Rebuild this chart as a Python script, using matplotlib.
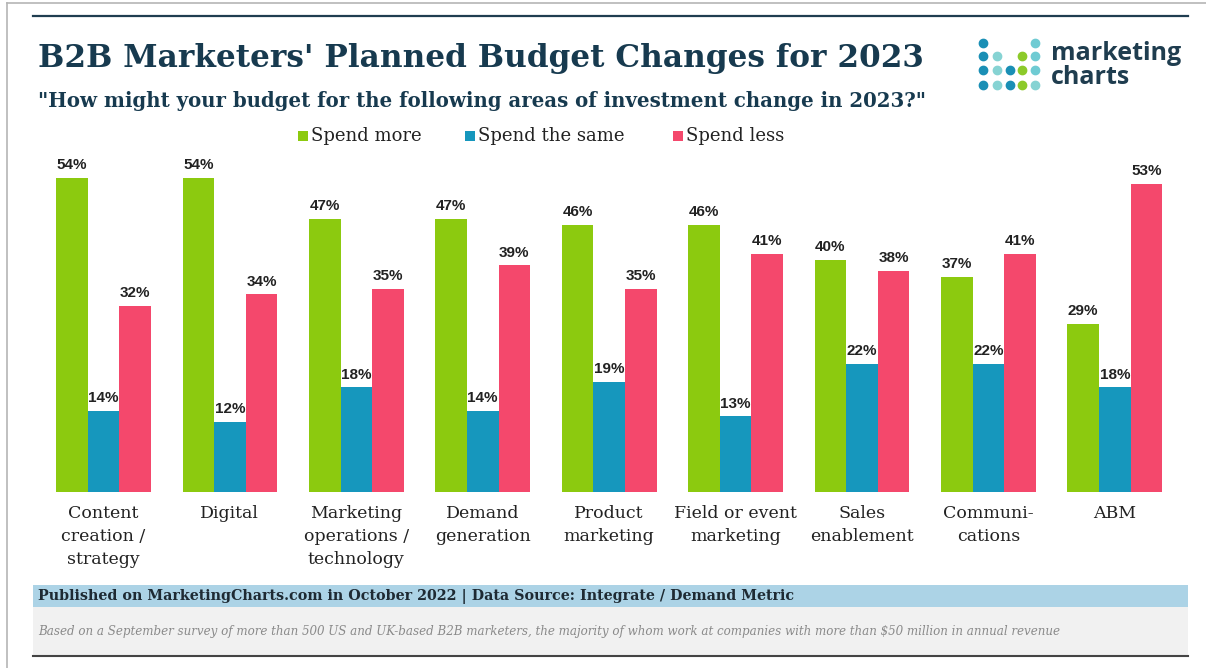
import matplotlib
matplotlib.use('Agg')
import matplotlib.pyplot as plt
from matplotlib.patches import Rectangle
from matplotlib.lines import Line2D
import numpy as np

W, H = 1206, 668

categories = ['Content\ncreation /\nstrategy', 'Digital', 'Marketing\noperations /\ntechnology',
              'Demand\ngeneration', 'Product\nmarketing', 'Field or event\nmarketing',
              'Sales\nenablement', 'Communi-\ncations', 'ABM']
spend_more = [54, 54, 47, 47, 46, 46, 40, 37, 29]
spend_same = [14, 12, 18, 14, 19, 13, 22, 22, 18]
spend_less = [32, 34, 35, 39, 35, 41, 38, 41, 53]
series_names = ['Spend more', 'Spend the same', 'Spend less']

GREEN = '#8cca0f'
BLUE = '#1697bd'
RED = '#f4486c'
NAVY = '#173a4f'
SERIF = ['DejaVu Serif']


def fx(px):
    return px / W


def fy(py):
    return 1 - py / H


fig = plt.figure(figsize=(W / 100, H / 100), dpi=100)
fig.patch.set_facecolor('white')

# outer frame + top rule
fig.add_artist(Line2D([fx(7), fx(7)], [fy(3), fy(668)], color='#b5b5b5', lw=1.2))
fig.add_artist(Line2D([fx(7), fx(1206)], [fy(3), fy(3)], color='#b5b5b5', lw=1.2))
fig.add_artist(Line2D([fx(33), fx(1188)], [fy(16), fy(16)], color='#1f3d50', lw=1.6))

# titles
fig.text(fx(38), fy(58), "B2B Marketers' Planned Budget Changes for 2023", family=SERIF,
         fontsize=22.4, fontweight='bold', color=NAVY, va='center', ha='left')
fig.text(fx(38), fy(101), '"How might your budget for the following areas of investment change in 2023?"',
         family=SERIF, fontsize=14.2, fontweight='bold', color=NAVY, va='center', ha='left')

# logo
dot_cols = [983, 997, 1010, 1022, 1035]
dot_rows = [43, 56, 70, 85]
dots = [
    ['#1a8fb5', None, None, None, '#6fcbd3'],
    ['#1a8fb5', '#86d3d3', None, '#8cca2a', '#6fcbd3'],
    ['#1a8fb5', '#86d3d3', '#1a8fb5', '#8cca2a', '#6fcbd3'],
    ['#1a8fb5', '#86d3d3', '#1a8fb5', '#8cca2a', '#86d3d3'],
]
for r, row in enumerate(dots):
    for c, col in enumerate(row):
        if col:
            fig.add_artist(Line2D([fx(dot_cols[c])], [fy(dot_rows[r])], marker='o', ms=6,
                                  color=col, mec=col, lw=0))
fig.text(fx(1051), fy(53), 'marketing', family='Open Sans', fontsize=18, fontweight='bold',
         color='#1f3d4f', va='center', ha='left')
fig.text(fx(1051), fy(78), 'charts', family='Open Sans', fontsize=18, fontweight='bold',
         color='#1f3d4f', va='center', ha='left')

# legend
for sx, name, col in zip([303, 470, 678], series_names, [GREEN, BLUE, RED]):
    fig.add_artist(Rectangle((fx(sx - 5), fy(141)), fx(10), 10 / H, color=col, lw=0))
    fig.text(fx(sx + 8), fy(136), name, family=SERIF, fontsize=13, color='#222222',
             va='center', ha='left')

# chart
ax = fig.add_axes([fx(40.3), fy(492), fx(1178 - 40.3), 60 * 5.81 / H])
x = np.arange(len(categories))
bw = 0.25
for off, vals, col in zip([-bw, 0, bw], [spend_more, spend_same, spend_less], [GREEN, BLUE, RED]):
    bars = ax.bar(x + off, vals, width=bw, color=col, lw=0)
    for b, v in zip(bars, vals):
        ax.text(b.get_x() + b.get_width() / 2, v + 1.0, f'{v}%', ha='center', va='bottom',
                fontsize=11, fontweight='bold', family='Liberation Sans', color='#222222')
ax.set_xlim(-0.5, len(categories) - 0.5)
ax.set_ylim(0, 60)
ax.set_xticks(x)
ax.set_xticklabels(categories, family=SERIF, fontsize=12.5, color='#222222', linespacing=1.5)
ax.tick_params(axis='x', length=0, pad=9)
ax.set_yticks([])
for s in ax.spines.values():
    s.set_visible(False)
ax.patch.set_alpha(0)

# footer
fig.add_artist(Rectangle((fx(33), fy(607)), fx(1188 - 33), 22 / H, color='#acd3e6', lw=0))
fig.text(fx(38), fy(596), 'Published on MarketingCharts.com in October 2022 | Data Source: Integrate / Demand Metric',
         family=SERIF, fontsize=10.3, fontweight='bold', color='#1e2a33', va='center', ha='left')
fig.add_artist(Rectangle((fx(33), fy(655)), fx(1188 - 33), 48 / H, color='#f1f1f1', lw=0))
fig.text(fx(38), fy(632), 'Based on a September survey of more than 500 US and UK-based B2B marketers, '
         'the majority of whom work at companies with more than $50 million in annual revenue',
         family=SERIF, fontsize=8.6, style='italic', color='#8a8a8a', va='center', ha='left')
fig.add_artist(Line2D([fx(33), fx(1188)], [fy(656), fy(656)], color='#444444', lw=1.5))

fig.savefig('out.png', dpi=100, facecolor='white')
